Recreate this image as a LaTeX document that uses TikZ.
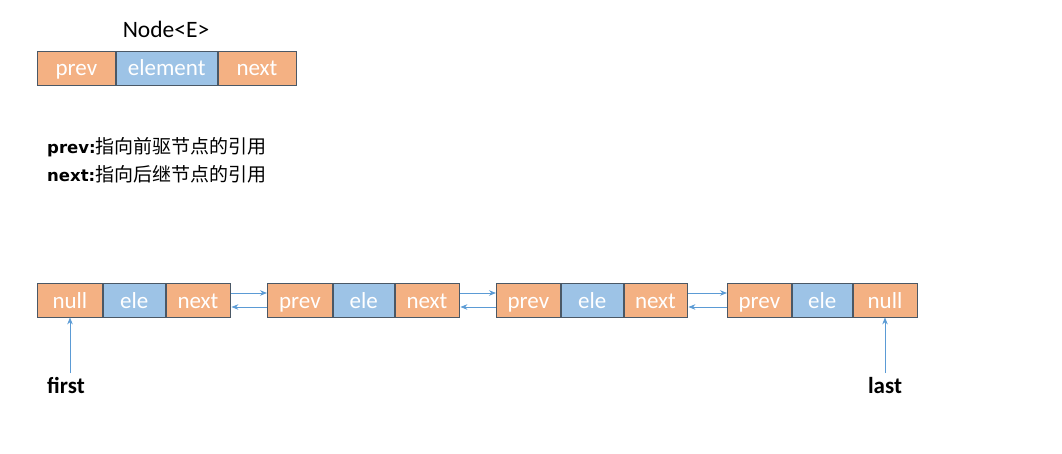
\documentclass[tikz,border=0pt]{standalone}
\usepackage{fontspec}
\setmainfont{Carlito}
\newfontfamily\cjk{Noto Sans CJK SC}
\newfontfamily\vbold{DejaVu Sans}
\usetikzlibrary{arrows.meta,calc}
\definecolor{org}{HTML}{F4B183}
\definecolor{blu}{HTML}{9DC3E6}
\definecolor{edge}{HTML}{4A5866}
\definecolor{arr}{HTML}{5B9BD5}
\tikzset{
  cell/.style={draw=edge, line width=0.8pt, inner sep=0pt, minimum height=34pt, text=white,
    text height=17pt, text depth=1pt,
    font=\fontsize{23}{26}\selectfont, anchor=west},
  oc/.style={cell, fill=org},
  bc/.style={cell, fill=blu},
  link/.style={draw=arr, line width=0.9pt, -{Stealth[length=7pt,width=5.5pt]}},
  lbl/.style={font=\fontsize{23}{26}\selectfont\bfseries, inner sep=0pt, anchor=base},
}
\begin{document}
\begin{tikzpicture}[x=1pt,y=-1pt]
\useasboundingbox (0,0) rectangle (1062,454);
% Node<E>
\node[font=\fontsize{23.5}{26}\selectfont, anchor=base, inner sep=0pt] (title) at (166,38) {Node<E>};
\node[oc, minimum width=78pt] (tp) at (37,68) {prev};
\node[bc, minimum width=101pt] (te) at (tp.east) {element};
\node[oc, minimum width=78pt] (tn) at (te.east) {next};
% description
\node[anchor=base west, inner sep=0pt] (d1) at (47,154) {{\vbold\fontsize{16.5}{19}\selectfont\bfseries prev:}{\cjk\fontsize{19}{21}\selectfont 指向前驱节点的引用}};
\node[anchor=base west, inner sep=0pt] (d2) at (47,182) {{\vbold\fontsize{16.5}{19}\selectfont\bfseries next:}{\cjk\fontsize{19}{21}\selectfont 指向后继节点的引用}};
% list nodes
\node[oc, minimum width=65pt] (a1) at (37,300) {null};
\node[bc, minimum width=62pt] (a2) at (a1.east) {ele};
\node[oc, minimum width=64pt] (a3) at (a2.east) {next};
\node[oc, minimum width=65pt] (b1) at (267,300) {prev};
\node[bc, minimum width=61pt] (b2) at (b1.east) {ele};
\node[oc, minimum width=64pt] (b3) at (b2.east) {next};
\node[oc, minimum width=64pt] (c1) at (496,300) {prev};
\node[bc, minimum width=62pt] (c2) at (c1.east) {ele};
\node[oc, minimum width=63pt] (c3) at (c2.east) {next};
\node[oc, minimum width=64pt] (e1) at (727,300) {prev};
\node[bc, minimum width=60pt] (e2) at (e1.east) {ele};
\node[oc, minimum width=64pt] (e3) at (e2.east) {null};
% links
\draw[link] ($(a3.east)+(1,-7)$) -- ($(b1.west)+(0,-7)$);
\draw[link] ($(b1.west)+(0,7)$) -- ($(a3.east)+(1,7)$);
\draw[link] ($(b3.east)+(1,-7)$) -- ($(c1.west)+(0,-7)$);
\draw[link] ($(c1.west)+(0,7)$) -- ($(b3.east)+(1,7)$);
\draw[link] ($(c3.east)+(1,-7)$) -- ($(e1.west)+(0,-7)$);
\draw[link] ($(e1.west)+(0,7)$) -- ($(c3.east)+(1,7)$);
% first / last
\node[lbl] (first) at (66,393) {first};
\node[lbl] (last) at (885,393) {last};
\coordinate (ft) at (70,373);
\coordinate (lt) at (885,373);
\draw[link] (ft) -- (ft |- a1.south);
\draw[link] (lt) -- (lt |- e3.south);
\end{tikzpicture}
\end{document}
